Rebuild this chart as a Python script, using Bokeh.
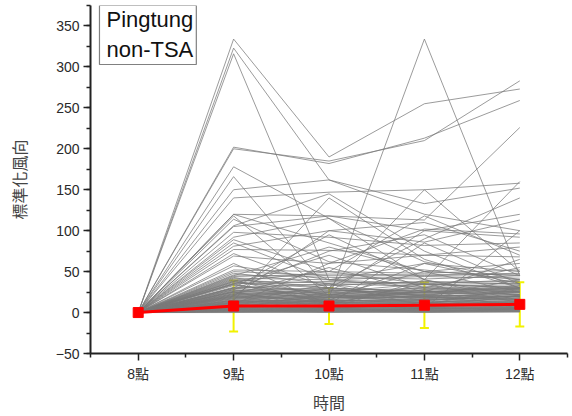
from bokeh.plotting import figure
from bokeh.models import (ColumnDataSource, FixedTicker, Whisker, TeeHead, Label,
                          Range1d)
from bokeh.embed import file_html
from bokeh.resources import INLINE

# ---------------- data ----------------
hours = [8, 9, 10, 11, 12]
hour_labels = ["8點", "9點", "10點", "11點", "12點"]

# each gray series: value at 8點 is 0, then values at 9,10,11,12點
start_value = 0
gray_series = [
    [334, 190, 255, 273], [323, 162, 120, 100], [316, 40, 30, 25], [202, 182, 213, 259],
    [12, 18, 334, 45], [105, 118, 113, 226], [140, 147, 150, 158], [150, 162, 133, 152],
    [178, 115, 62, 40], [166, 28, 20, 15], [120, 118, 100, 92], [114, 62, 52, 40],
    [106, 145, 75, 30], [98, 92, 82, 85], [89, 50, 118, 70], [81, 100, 86, 113],
    [77, 76, 70, 68], [69, 60, 102, 96], [57, 40, 60, 50], [45, 80, 50, 60],
    [41, 30, 90, 140], [20, 100, 110, 75], [25, 5, 40, 160], [30, 95, 40, 15],
    [35, 70, 30, 55], [10, 60, 70, 80], [50, 45, 45, 47], [48, 35, 20, 10],
    [40, 10, 5, 100], [38, 50, 35, 40], [118, 20, 25, 30], [92, 115, 40, 20],
    [60, 10, 85, 35], [15, 140, 65, 30], [5, 25, 100, 120], [28, 75, 95, 45],
    [72, 30, 15, 20], [22, 55, 25, 65],
    [8, 15, 60, 35], [43, 20, 50, 25], [120, 85, 50, 45], [85, 40, 35, 30],
    [18, 30, 150, 50], [200, 185, 210, 283],
    [38, 22, 30, 28], [36, 30, 25, 33], [34, 18, 20, 22], [33, 25, 35, 30],
    [31, 28, 22, 26], [30, 20, 18, 25], [29, 26, 30, 32], [28, 15, 12, 18],
    [27, 24, 28, 30], [26, 30, 26, 22], [25, 18, 20, 24], [24, 22, 25, 27],
    [23, 12, 15, 20], [22, 20, 22, 25], [21, 25, 18, 16], [20, 16, 20, 22],
    [19, 14, 17, 20], [18, 20, 24, 28], [17, 12, 14, 16], [16, 18, 15, 20],
    [15, 10, 12, 14], [14, 16, 18, 20], [13, 11, 13, 15], [12, 14, 16, 18],
    [11, 9, 10, 12], [10, 12, 11, 13], [9, 8, 10, 11], [8, 10, 9, 12],
    [7, 6, 8, 9], [6, 8, 7, 10], [5, 5, 6, 8], [4, 6, 5, 7],
    [3, 4, 5, 6], [2, 3, 4, 5], [1, 2, 3, 4], [4, 2, 3, 2],
    [3, 5, 2, 4], [2, 1, 2, 3], [1, 1, 1, 2], [5, 3, 4, 6],
    [6, 4, 5, 3], [7, 9, 6, 5], [8, 5, 7, 6], [9, 7, 8, 10],
    [10, 8, 9, 7], [12, 10, 8, 9], [14, 11, 12, 10], [3, 2, 1, 1],
    [2, 2, 2, 2], [1, 0, 1, 1], [0, 1, 0, 1], [2, 4, 3, 3],
    [4, 3, 4, 5], [6, 5, 6, 4], [11, 13, 10, 14], [13, 15, 14, 12],
    [15, 13, 16, 17], [17, 19, 18, 21], [19, 22, 21, 19], [21, 18, 23, 24],
    [23, 27, 24, 26], [26, 23, 27, 29], [30, 35, 32, 34], [35, 38, 34, 36],
    [37, 33, 38, 35], [39, 36, 37, 38], [42, 40, 44, 42], [46, 43, 41, 45],
    [44, 47, 46, 48], [52, 50, 48, 52], [3, 18, 25, 30],
    [5, 22, 12, 8], [8, 30, 20, 40], [20, 5, 10, 30], [25, 10, 35, 12],
    [12, 35, 8, 20], [35, 12, 28, 5],
]

mean_values = [0, 8, 8, 9, 10]
sd_values = [0, 31, 22, 28, 27]

title_lines = ["Pingtung", "non-TSA"]
x_title = "時間"
y_title = "標準化風向"

# ---------------- figure ----------------
FONT = "'Liberation Sans', Arial, 'Noto Sans CJK TC', sans-serif"
CJK = "'Noto Sans CJK TC', 'Noto Sans CJK SC', sans-serif"

p = figure(width=572, height=416, output_backend="svg", toolbar_location=None,
           x_range=Range1d(7.5, 12.5), y_range=Range1d(-50, 375),
           min_border_left=90, min_border_right=5, min_border_top=5,
           min_border_bottom=61)
p.outline_line_color = None
p.grid.visible = False
p.background_fill_color = "white"
p.border_fill_color = "white"

xs = [hours for _ in gray_series]
ys = [[start_value] + s for s in gray_series]
p.multi_line(xs, ys, line_color="#7a7a7a", line_width=1, line_alpha=0.75)

# error bars (9點 .. 12點)
eb = ColumnDataSource(dict(
    x=hours[1:],
    upper=[m + s for m, s in zip(mean_values[1:], sd_values[1:])],
    lower=[m - s for m, s in zip(mean_values[1:], sd_values[1:])],
))
yel = "#f2f200"
p.add_layout(Whisker(source=eb, base="x", upper="upper", lower="lower",
                     line_color=yel, line_width=2,
                     upper_head=TeeHead(size=9, line_color=yel, line_width=2),
                     lower_head=TeeHead(size=9, line_color=yel, line_width=2)))

p.line(hours, mean_values, line_color="#ff0000", line_width=3)
p.scatter(hours, mean_values, marker="square", size=10, fill_color="#ff0000",
          line_color="#ff0000")

# axes
for ax in (p.xaxis[0], p.yaxis[0]):
    ax.axis_line_width = 2
    ax.axis_line_color = "#222222"
    ax.major_tick_line_color = "#222222"
    ax.minor_tick_line_color = "#222222"
    ax.major_tick_line_width = 1.5
    ax.minor_tick_line_width = 1.5
    ax.major_tick_out = 7
    ax.major_tick_in = 0
    ax.minor_tick_out = 4
    ax.minor_tick_in = 0
    ax.major_label_text_font = FONT
    ax.major_label_text_font_size = "14px"
    ax.major_label_text_color = "#2a2a2a"
    ax.axis_label_text_font = CJK
    ax.axis_label_text_font_size = "16px"
    ax.axis_label_text_font_style = "normal"
    ax.axis_label_text_color = "#444444"

p.xaxis.ticker = FixedTicker(ticks=hours, minor_ticks=[h + 0.5 for h in hours] + [7.5])
p.xaxis.major_label_overrides = {h: lab for h, lab in zip(hours, hour_labels)}
p.xaxis.axis_label = x_title
p.xaxis.major_label_standoff = 5
p.xaxis.axis_label_standoff = 5

p.yaxis.ticker = FixedTicker(ticks=list(range(-50, 351, 50)),
                             minor_ticks=list(range(-50, 376, 25)))
p.yaxis.axis_label = y_title
p.yaxis.major_label_standoff = 4
p.yaxis.axis_label_standoff = 22

# title box
p.add_layout(Label(x=7.594, y=375, text="\n".join(title_lines), anchor="top_left",
                   text_font=FONT, text_font_size="22px", text_color="#111111",
                   text_line_height=1.2,
                   border_line_color="#808080", border_line_width=1.2,
                   background_fill_color="white",
                   padding=dict(left=7, right=3, top=1, bottom=3)))

open("out.html", "w").write(file_html(p, INLINE))
